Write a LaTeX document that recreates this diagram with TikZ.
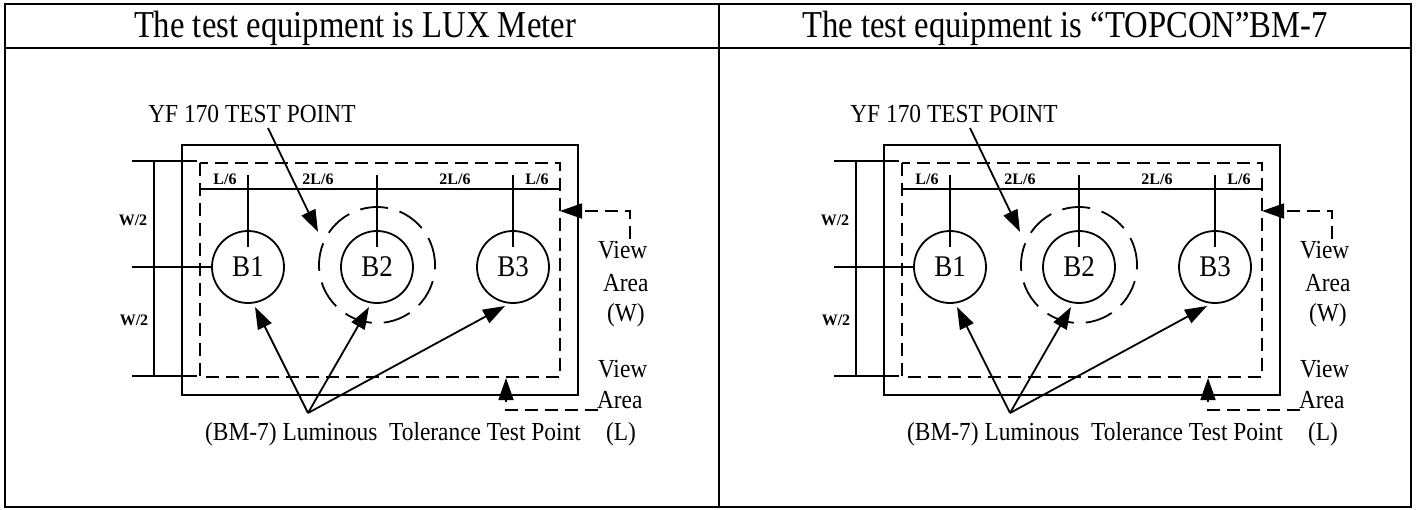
\documentclass[tikz,border=0pt]{standalone}
\usepackage{fontspec}
\setmainfont{Liberation Serif}
\newfontfamily\hdfont[FakeStretch=0.86]{Liberation Serif}
\newfontfamily\lbfont[FakeStretch=0.9]{Liberation Serif}
\usetikzlibrary{arrows.meta}
\begin{document}
\begin{tikzpicture}[x=1pt,y=-1pt,
  every node/.style={inner sep=0pt, outer sep=0pt},
  ln/.style={line width=1.8pt},
  frame/.style={line width=2.8pt},
  dsh/.style={line width=1.8pt, dash pattern=on 13pt off 7pt},
  dcirc/.style={line width=1.8pt, dash pattern=on 28pt off 12pt},
  tip/.style={-{Triangle[length=22pt,width=15pt]}},
  hd/.style={font=\hdfont\fontsize{38}{40}\selectfont, anchor=base},
  lb/.style={font=\lbfont\fontsize{26}{28}\selectfont, anchor=base},
  lbw/.style={lb, anchor=base west},
  bl/.style={font=\lbfont\fontsize{30}{32}\selectfont},
  sm/.style={font=\bfseries\fontsize{16}{18}\selectfont, anchor=base},
  bcirc/.style={circle, draw, line width=1.8pt, minimum size=72pt}
]
\useasboundingbox (0,0) rectangle (1419,509);
% table
\coordinate (ttl) at (5,4);
\coordinate (tbr) at (1411,507);
\draw[frame] (ttl) rectangle (tbr);
\draw[frame] (5,48) -- (1411,48);
\draw[frame] (719,4) -- (719,507);
\node[hd] (h1) at (355,37) {The test equipment is LUX Meter};
\node[hd] (h2) at (1065,37) {The test equipment is “TOPCON”BM-7};
\foreach \p/\dx in {L/0,R/702}{
\begin{scope}[xshift=\dx pt, name prefix=\p-]
  % frames
  \draw[ln] (182,145) rectangle (578,395);
  \draw[dsh] (200,163) rectangle (560,377);
  % circles
  \node[bcirc, bl] (b1) at (248,267) {B1};
  \node[bcirc, bl] (b2) at (377,267) {B2};
  \node[bcirc, bl] (b3) at (513,267) {B3};
  \draw[dcirc] (377,265) circle[radius=58pt];
  % L dimension
  \coordinate (dl) at (200,189);
  \coordinate (dr) at (560,189);
  \draw[ln] (dl) -- (dr);
  \draw[ln] (248,175) -- (248,247);
  \draw[ln] (377,175) -- (377,247);
  \draw[ln] (513,175) -- (513,247);
  \node[sm] (l1) at (225,184) {L/6};
  \node[sm] (l2) at (318,184) {2L/6};
  \node[sm] (l3) at (455,184) {2L/6};
  \node[sm] (l4) at (537,184) {L/6};
  % W dimension
  \draw[ln] (132,161) -- (197,161);
  \draw[ln] (132,376) -- (197,376);
  \draw[ln] (154,161) -- (154,376);
  \draw[ln] (132,267) -- (b1.west);
  \node[sm] (w1) at (133,225) {W/2};
  \node[sm] (w2) at (134,325) {W/2};
  % YF test point
  \node[lb] (yf) at (252,122) {YF 170 TEST POINT};
  \coordinate (yfs) at (268,128);
  \coordinate (yft) at (318,232);
  \draw[ln,tip] (yfs) -- (yft);
  % luminous
  \node[lb] (lum) at (393,440) {(BM-7) Luminous\ \ Tolerance Test Point};
  \coordinate (ls) at (308,413);
  \coordinate (t1) at (255,307);
  \coordinate (t2) at (369,307);
  \coordinate (t3) at (505,306);
  \draw[ln,tip] (ls) -- (t1);
  \draw[ln,tip] (ls) -- (t2);
  \draw[ln,tip] (ls) -- (t3);
  % view area
  \node[lbw] (vw1) at (598,258) {View};
  \node[lbw] (vw2) at (603,291) {Area};
  \node[lbw] (vw3) at (607,321) {(W)};
  \node[lbw] (vl1) at (598,377) {View};
  \node[lbw] (vl2) at (597,408) {Area};
  \node[lbw] (vl3) at (606,440) {(L)};
  \coordinate (aw1) at (630,239);
  \coordinate (aw2) at (630,211);
  \coordinate (aw3) at (560,211);
  \draw[dsh,tip] (aw1) -- (aw2) -- (aw3);
  \coordinate (al1) at (598,410);
  \coordinate (al2) at (506,410);
  \coordinate (al3) at (506,378);
  \draw[dsh,tip] (al1) -- (al2) -- (al3);
\end{scope}
}
\end{tikzpicture}
\end{document}
